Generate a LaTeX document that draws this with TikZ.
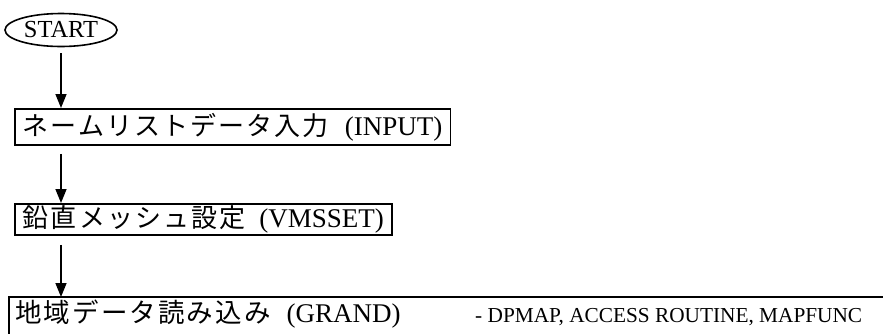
\documentclass[tikz,border=0pt]{standalone}
\usepackage{fontspec}
\setmainfont{Liberation Serif}
\newfontfamily\cjk[LetterSpace=8]{Noto Sans CJK JP}
\usetikzlibrary{shapes.geometric,arrows.meta}
\begin{document}
\begin{tikzpicture}[x=1pt,y=-1pt,
  boxline/.style={draw,line width=1.8pt},
  procbox/.style={boxline,anchor=north west,inner xsep=8pt,inner ysep=0pt,
     font=\fontsize{27}{30}\selectfont},
  arr/.style={line width=1.5pt,-{Triangle[length=14pt,width=11pt]}},
]
\useasboundingbox (0,0) rectangle (883,333);
\node[boxline,ellipse,line width=1.6pt,minimum width=112pt,minimum height=33pt,inner sep=0pt,
  font=\fontsize{24.5}{28}\selectfont] (start) at (61,30) {START};
\coordinate (ax) at (61,0);
\node[procbox,minimum height=36pt] (b1) at (14,108)
  {{\cjk\fontsize{26}{30}\selectfont ネームリストデータ入力}\hspace{16pt}(INPUT)\hspace{14pt}};
\node[procbox,minimum height=31pt] (b2) at (14,203)
  {{\cjk\fontsize{26}{30}\selectfont 鉛直メッシュ設定}\hspace{14pt}(VMSSET)\hspace{5pt}};
\coordinate (b3) at (9,297);
\draw[boxline] (9,340) -- (b3) -- (890,297);
\node[anchor=base west,inner sep=0pt,font=\fontsize{27}{30}\selectfont] (t3) at (15,322)
  {{\cjk\fontsize{26.5}{30}\selectfont 地域データ読み込み}\hspace{16pt}(GRAND)};
\node[anchor=base west,inner sep=0pt,font=\fontsize{21.3}{24}\selectfont] (t4) at (475,322)
  {- DPMAP, ACCESS ROUTINE, MAPFUNC};
\draw[arr,shorten <=6pt] (start.south -| ax) -- (b1.north -| ax);
\draw[arr,shorten <=8pt] (b1.south -| ax) -- (b2.north -| ax);
\draw[arr,shorten <=9pt] (b2.south -| ax) -- (b3 -| ax);
\end{tikzpicture}
\end{document}
